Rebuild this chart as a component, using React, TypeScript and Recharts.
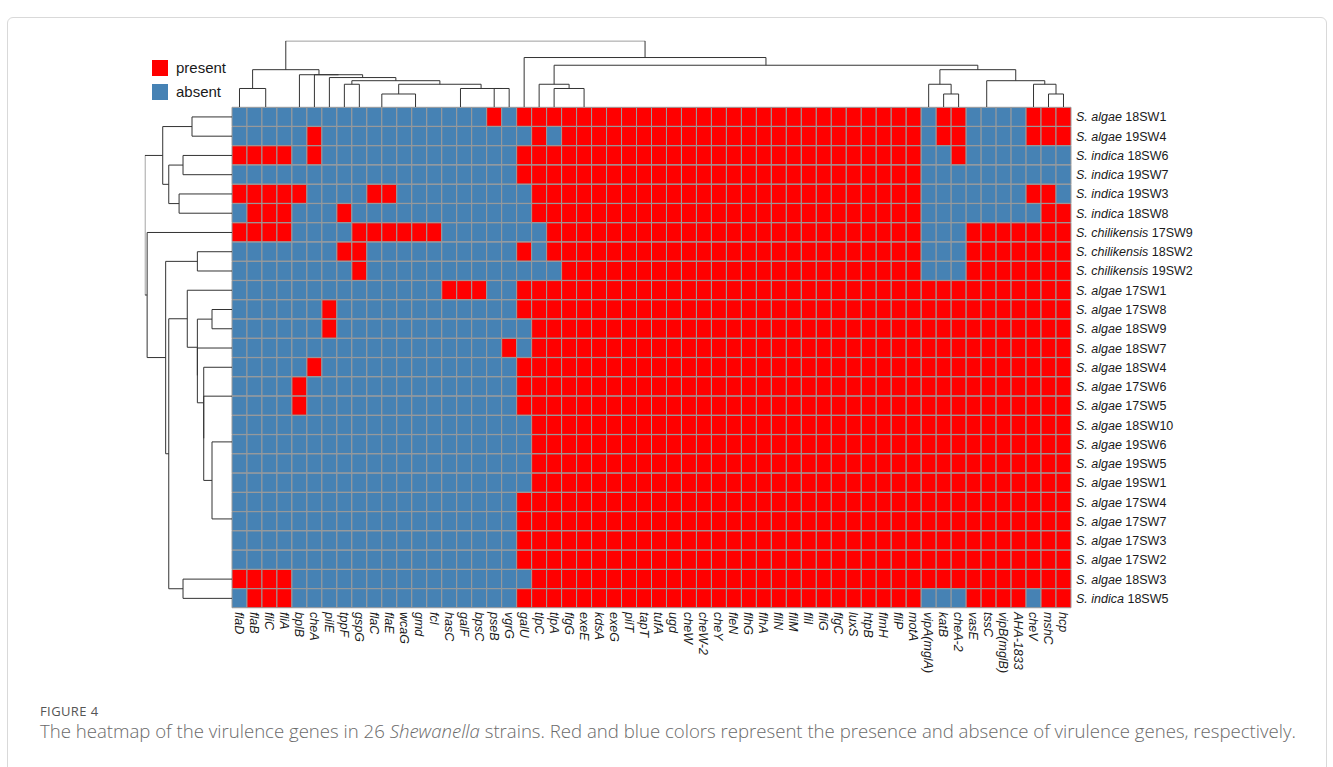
import React from 'react';
import { BarChart, Bar, Cell, XAxis, YAxis, ComposedChart, Line } from 'recharts';

// ---------------- data ----------------
const GENES = ['flaD','flaB','fliC','fliA','bplB','cheA','pilE','tppF','gspG','flaC','flaE','wcaG','gmd','fcl','hasC','galF','bpsC','pseB','vgrG','galU','tlpC','tlpA','flgG','exeE','kdsA','exeG','pilT','tapT','tufA','ugd','cheW','cheW-2','cheY','fleN','flhG','flhA','fliN','fliM','fliI','fliG','flgC','luxS','htpB','flmH','fliP','motA','vipA(mglA)','katB','cheA-2','vasE','tssC','vipB(mglB)','AHA-1833','cheV','mshC','hcp'];

const SPECIES = ['S. algae','S. algae','S. indica','S. indica','S. indica','S. indica','S. chilikensis','S. chilikensis','S. chilikensis','S. algae','S. algae','S. algae','S. algae','S. algae','S. algae','S. algae','S. algae','S. algae','S. algae','S. algae','S. algae','S. algae','S. algae','S. algae','S. algae','S. indica'];
const STRAINS = ['18SW1','19SW4','18SW6','19SW7','19SW3','18SW8','17SW9','18SW2','19SW2','17SW1','17SW8','18SW9','18SW7','18SW4','17SW6','17SW5','18SW10','19SW6','19SW5','19SW1','17SW4','17SW7','17SW3','17SW2','18SW3','18SW5'];

// 1 = present, 0 = absent; groups: 0-4 | 5-9 | 10-14 | 15-18 | 19-21 | 22-45 | 46-48 | 49-52 | 53-55
const PRESENCE = [
  '00000 00000 00000 0010 111 111111 111111 111111 111111 011 0000 111',
  '00000 10000 00000 0000 010 111111 111111 111111 111111 011 0000 111',
  '11110 10000 00000 0000 111 111111 111111 111111 111111 001 0000 000',
  '00000 00000 00000 0000 111 111111 111111 111111 111111 000 0000 000',
  '11111 00001 10000 0000 011 111111 111111 111111 111111 000 0000 110',
  '01110 00100 00000 0000 011 111111 111111 111111 111111 000 0000 011',
  '11110 00011 11110 0000 001 111111 111111 111111 111111 000 1111 111',
  '00000 00110 00000 0000 101 111111 111111 111111 111111 000 1111 111',
  '00000 00010 00000 0000 000 111111 111111 111111 111111 000 1111 111',
  '00000 00000 00001 1100 111 111111 111111 111111 111111 111 1111 111',
  '00000 01000 00000 0000 111 111111 111111 111111 111111 111 1111 111',
  '00000 01000 00000 0000 011 111111 111111 111111 111111 111 1111 111',
  '00000 00000 00000 0001 011 111111 111111 111111 111111 111 1111 111',
  '00000 10000 00000 0000 111 111111 111111 111111 111111 111 1111 111',
  '00001 00000 00000 0000 111 111111 111111 111111 111111 111 1111 111',
  '00001 00000 00000 0000 111 111111 111111 111111 111111 111 1111 111',
  '00000 00000 00000 0000 011 111111 111111 111111 111111 111 1111 111',
  '00000 00000 00000 0000 011 111111 111111 111111 111111 111 1111 111',
  '00000 00000 00000 0000 011 111111 111111 111111 111111 111 1111 111',
  '00000 00000 00000 0000 011 111111 111111 111111 111111 111 1111 111',
  '00000 00000 00000 0000 111 111111 111111 111111 111111 111 1111 111',
  '00000 00000 00000 0000 111 111111 111111 111111 111111 111 1111 111',
  '00000 00000 00000 0000 111 111111 111111 111111 111111 111 1111 111',
  '00000 00000 00000 0000 111 111111 111111 111111 111111 111 1111 111',
  '11110 00000 00000 0000 011 111111 111111 111111 111111 111 1111 111',
  '01110 00000 00000 0000 111 111111 111111 111111 111111 000 1111 011',
];

// hclust-style merges: negative = leaf -(index+1), positive = earlier merge (1-based); third = height
const COL_MERGES: [number, number, number][] = [
  [-3, -4, 0], [-2, 1, 0], [-10, -11, 0], [-13, -14, 0], [-12, 4, 0], [-16, -17, 0], [-15, 6, 0],
  [-45, -46, 0], [-44, 8, 0], [-43, 9, 0], [-42, 10, 0], [-41, 11, 0], [-40, 12, 0], [-39, 13, 0],
  [-38, 14, 0], [-37, 15, 0], [-36, 16, 0], [-35, 17, 0], [-34, 18, 0], [-33, 19, 0], [-32, 20, 0],
  [-31, 21, 0], [-30, 22, 0], [-29, 23, 0], [-28, 24, 0], [-27, 25, 0], [-26, 26, 0], [-25, 27, 0],
  [-24, 28, 0], [-23, 29, 0],
  [-52, -53, 0], [-51, 31, 0], [-50, 32, 0],
  [-1, 2, 1.414], [3, 5, 1], [-18, -19, 1.414], [7, 36, 1.414], [35, 37, 1.732], [-8, -9, 1.732],
  [39, 38, 2], [-7, 40, 2.236], [-6, 41, 2.449], [-5, 42, 2.449], [34, 43, 2.828],
  [-22, 30, 1.414], [-21, 45, 1.732], [-48, -49, 1], [-47, 47, 1.732], [-55, -56, 1], [-54, 49, 1.732],
  [33, 50, 2], [48, 51, 2.828], [46, 52, 3.162], [-20, 53, 3.742], [44, 54, 5],
];

const ROW_MERGES: [number, number, number][] = [
  [-15, -16, 0], [-19, -20, 0], [-18, 2, 0], [-17, 3, 0], [-23, -24, 0], [-22, 5, 0], [-21, 6, 0],
  [4, 7, 1], [1, 8, 1.414], [-14, 9, 1.414], [-13, 10, 1.732], [-11, -12, 1], [12, 11, 1.732],
  [-10, 13, 2.236], [-25, -26, 2.449], [14, 15, 3.162], [-8, -9, 1.732], [17, 16, 3.317],
  [-7, 18, 4.243], [-1, -2, 2], [-3, -4, 2.449], [-5, -6, 2.646], [21, 22, 3.162], [20, 23, 3.464],
  [24, 19, 4.359],
];

// ---------------- styling / layout ----------------
const RED = '#FF0000';
const BLUE = '#4682B4';
const GRID = '#9a9a9a';
const TREE = '#333333';
const FONT = '"Liberation Sans", Arial, Helvetica, sans-serif';

const HM_LEFT = 232;
const HM_RIGHT = 1071;
const HM_TOP = 107.3;
const HM_BOTTOM = 608;
const COL_TREE_PX = 13.3; // px per unit height
const ROW_TREE_PX = 20;

type Pt = { p: number; h: number };
function buildSegments(merges: [number, number, number][]): Pt[][] {
  const pos: number[] = [];
  const hgt: number[] = [];
  const get = (id: number): Pt => (id < 0 ? { p: -id - 1 + 0.5, h: 0 } : { p: pos[id - 1], h: hgt[id - 1] });
  const segs: Pt[][] = [];
  merges.forEach(([a, b, h], k) => {
    const A = get(a);
    const B = get(b);
    pos[k] = (A.p + B.p) / 2;
    hgt[k] = h;
    if (h > 0) segs.push([{ p: A.p, h: A.h }, { p: A.p, h }, { p: B.p, h }, { p: B.p, h: B.h }]);
  });
  return segs;
}

const colSegs = buildSegments(COL_MERGES);
const rowSegs = buildSegments(ROW_MERGES);
const colMax = Math.max(...COL_MERGES.map((m) => m[2]));
const rowMax = Math.max(...ROW_MERGES.map((m) => m[2]));

const rows = STRAINS.map((s) => {
  const o: any = { strain: s };
  GENES.forEach((_, j) => (o[`g${j}`] = 1));
  return o;
});
const matrix = PRESENCE.map((r) => r.replace(/ /g, ''));
const geneTicks = GENES.map((_, j) => j + 0.5);

const GeneTick = (props: any) => {
  const { x, y, payload } = props;
  const name = GENES[Math.floor(payload.value)];
  return (
    <text
      x={0}
      y={0}
      transform={`translate(${x},${y + 4}) rotate(90)`}
      dy="0.36em"
      textAnchor="start"
      fontStyle="italic"
      fontSize={12.5}
      fontFamily={FONT}
      fill="#1a1a1a"
    >
      {name}
    </text>
  );
};

const StrainTick = (props: any) => {
  const { x, y, payload } = props;
  const i = STRAINS.indexOf(payload.value);
  return (
    <text x={x + 5} y={y} dy="0.36em" textAnchor="start" fontSize={12.5} fontFamily={FONT} fill="#1a1a1a">
      <tspan fontStyle="italic">{SPECIES[i]}</tspan>
      <tspan> {STRAINS[i]}</tspan>
    </text>
  );
};

export default function App() {
  const colTreeTop = HM_TOP - colMax * COL_TREE_PX;
  const rowTreeLeft = HM_LEFT - rowMax * ROW_TREE_PX;
  const abs: React.CSSProperties = { position: 'absolute', left: 0, top: 0 };
  return (
    <div style={{ position: 'absolute', left: 0, top: 0, width: 1333, height: 767, background: '#fff', overflow: 'hidden', fontFamily: FONT }}>
      {/* card border */}
      <div style={{ position: 'absolute', left: 7, top: 17, width: 1318, height: 780, border: '1px solid #d9d9d9', borderRadius: 6 }} />

      {/* heatmap */}
      <div style={abs}>
        <BarChart
          width={1333}
          height={767}
          data={rows}
          layout="vertical"
          barCategoryGap={0}
          margin={{ top: HM_TOP, left: HM_LEFT, right: 0, bottom: 0 }}
        >
          <XAxis
            type="number"
            domain={[0, GENES.length]}
            ticks={geneTicks}
            interval={0}
            height={767 - HM_BOTTOM}
            tickLine={false}
            axisLine={false}
            tickSize={0}
            tickMargin={0}
            tick={<GeneTick />}
          />
          <YAxis
            type="category"
            dataKey="strain"
            orientation="right"
            width={1333 - HM_RIGHT}
            interval={0}
            tickLine={false}
            axisLine={false}
            tickSize={0}
            tickMargin={0}
            tick={<StrainTick />}
          />
          {GENES.map((g, j) => (
            <Bar key={g} dataKey={`g${j}`} stackId="s" stroke={GRID} strokeWidth={1} isAnimationActive={false}>
              {rows.map((_, i) => (
                <Cell key={i} fill={matrix[i][j] === '1' ? RED : BLUE} />
              ))}
            </Bar>
          ))}
        </BarChart>
      </div>

      {/* column dendrogram */}
      <div style={abs}>
        <ComposedChart width={HM_RIGHT} height={HM_TOP} margin={{ top: colTreeTop, left: HM_LEFT, right: 0, bottom: 0 }}>
          <XAxis type="number" dataKey="x" domain={[0, GENES.length]} hide allowDataOverflow />
          <YAxis type="number" domain={[0, colMax]} hide allowDataOverflow />
          {colSegs.map((s, k) => (
            <Line
              key={k}
              data={s.map((q) => ({ x: q.p, y: q.h }))}
              dataKey="y"
              stroke={TREE}
              strokeWidth={1}
              dot={false}
              activeDot={false}
              isAnimationActive={false}
              legendType="none"
            />
          ))}
        </ComposedChart>
      </div>

      {/* row dendrogram */}
      <div style={abs}>
        <ComposedChart width={HM_LEFT} height={767} margin={{ top: HM_TOP, left: rowTreeLeft, right: 0, bottom: 767 - HM_BOTTOM }}>
          <XAxis type="number" dataKey="h" domain={[0, rowMax]} reversed hide allowDataOverflow />
          <YAxis type="number" domain={[0, STRAINS.length]} reversed hide allowDataOverflow />
          {rowSegs.map((s, k) => (
            <Line
              key={k}
              data={s.map((q) => ({ h: q.h, r: q.p }))}
              dataKey="r"
              stroke={TREE}
              strokeWidth={1}
              dot={false}
              activeDot={false}
              isAnimationActive={false}
              legendType="none"
            />
          ))}
        </ComposedChart>
      </div>

      {/* legend */}
      <div style={{ position: 'absolute', left: 152, top: 60, width: 16, height: 16, background: RED }} />
      <div style={{ position: 'absolute', left: 176, top: 59, fontSize: 15, lineHeight: '18px', color: '#1a1a1a' }}>present</div>
      <div style={{ position: 'absolute', left: 152, top: 84, width: 16, height: 16, background: BLUE }} />
      <div style={{ position: 'absolute', left: 176, top: 83, fontSize: 15, lineHeight: '18px', color: '#1a1a1a' }}>absent</div>

      {/* caption */}
      <div style={{ position: 'absolute', left: 40, top: 704, fontFamily: '"Open Sans", sans-serif', fontSize: 13, letterSpacing: 0.4, color: '#555', lineHeight: '14px' }}>
        FIGURE 4
      </div>
      <div style={{ position: 'absolute', left: 40, top: 721, fontFamily: '"Open Sans", sans-serif', fontSize: 18.6, fontWeight: 300, color: '#6a6a6a', lineHeight: '20px', whiteSpace: 'nowrap' }}>
        The heatmap of the virulence genes in 26 <i>Shewanella</i> strains. Red and blue colors represent the presence and absence of virulence genes, respectively.
      </div>
    </div>
  );
}
